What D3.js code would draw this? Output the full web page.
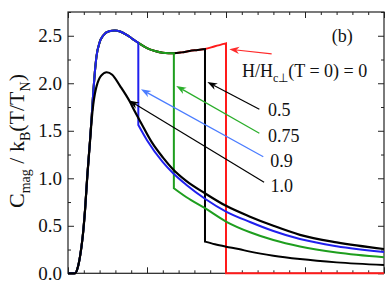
<!DOCTYPE html>
<html>
<head>
<meta charset="utf-8">
<script src="https://cdn.jsdelivr.net/npm/d3@7"></script>
<style>
  html, body { margin: 0; padding: 0; background: #fff; }
  svg { display: block; }
  text { font-family: "Liberation Serif", "Times New Roman", serif; fill: #111; }
</style>
</head>
<body>
<svg id="chart" width="388" height="288"></svg>
<script>
// ---------------- data (T/T_N , C_mag/k_B) ----------------
// ordered-phase branch shared by H/Hc = 0, 0.5, 0.75, 0.9
const T_order = [0, 0.045, 0.06, 0.076, 0.093, 0.108, 0.122, 0.139, 0.15, 0.16, 0.17, 0.18, 0.2, 0.224, 0.26, 0.297, 0.33, 0.371, 0.41, 0.445, 0.5, 0.55, 0.6, 0.67, 0.72, 0.77, 0.82, 0.867, 0.93, 1.0];
const C_order = [0, 0, 0.05, 0.175, 0.385, 0.67, 1.02, 1.39, 1.65, 1.91, 2.12, 2.28, 2.43, 2.505, 2.548, 2.556, 2.545, 2.51, 2.465, 2.425, 2.37, 2.34, 2.322, 2.316, 2.325, 2.34, 2.35, 2.36, 2.39, 2.42];

// transition temperatures (field labels)
const fieldLabels = ["0", "0.5", "0.75", "0.9"];
const T_jump = [1.0, 0.867, 0.67, 0.445];

// high-temperature branches after the jump
const T_tail_0   = [1.0, 2.0];
const C_tail_0   = [0, 0];
const T_tail_05  = [0.867, 0.93, 1.0, 1.08, 1.152, 1.3, 1.468, 1.7, 2.0];
const C_tail_05  = [0.333, 0.305, 0.28, 0.255, 0.228, 0.185, 0.15, 0.115, 0.087];
const T_tail_075 = [0.67, 0.75, 0.867, 1.0, 1.152, 1.3, 1.468, 1.7, 2.0];
const C_tail_075 = [0.895, 0.80, 0.685, 0.545, 0.432, 0.35, 0.282, 0.218, 0.168];
const T_tail_09  = [0.445, 0.5, 0.6, 0.667, 0.75, 0.867, 1.0, 1.152, 1.3, 1.468, 1.7, 2.0];
const C_tail_09  = [1.56, 1.40, 1.17, 1.05, 0.93, 0.785, 0.65, 0.54, 0.445, 0.36, 0.285, 0.224];

// H/Hc = 1.0 : continuous curve
const T_h10 = [0, 0.045, 0.06, 0.076, 0.093, 0.108, 0.122, 0.139, 0.15, 0.16, 0.17, 0.181, 0.21, 0.245, 0.28, 0.33, 0.39, 0.424, 0.46, 0.53, 0.6, 0.667, 0.75, 0.867, 1.0, 1.152, 1.3, 1.468, 1.7, 2.0];
const C_h10 = [0, 0, 0.05, 0.175, 0.385, 0.67, 1.02, 1.38, 1.62, 1.78, 1.89, 1.97, 2.08, 2.116, 2.09, 1.97, 1.81, 1.70, 1.59, 1.38, 1.22, 1.09, 0.97, 0.842, 0.71, 0.596, 0.5, 0.405, 0.325, 0.256];

// axis ticks
const yMajor = [0, 0.5, 1.0, 1.5, 2.0, 2.5];
const yMinor = [0.25, 0.75, 1.25, 1.75, 2.25, 2.75];
const xMajor = [0, 0.5, 1.0, 1.5, 2.0];
const xMinor = [0.1,0.2,0.3,0.4,0.6,0.7,0.8,0.9,1.1,1.2,1.3,1.4,1.6,1.7,1.8,1.9];

// annotations (data coordinates)
const arrowLabels = ["H/Hc⊥(T = 0) = 0", "0.5", "0.75", "0.9", "1.0"];
const arrowTail = [[1.289, 2.309], [1.211, 1.726], [1.211, 1.474], [1.236, 1.227], [1.241, 0.958]];
const arrowHead = [[1.021, 2.358], [0.882, 2.014], [0.685, 1.972], [0.462, 1.937], [0.386, 1.819]];
const labelPos  = [[1.101, 2.069], [1.266, 1.656], [1.266, 1.385], [1.280, 1.122], [1.282, 0.859]];

// ---------------- layout ----------------
const svg = d3.select("#chart");
const L = 68, R = 384, T = 12, B = 273.3;
const x = d3.scaleLinear().domain([0, 2]).range([L, R]);
const y = d3.scaleLinear().domain([0, 2.75]).range([B, T]);

const colLine = ["#ff1a1a", "#000000", "#1e9e1e", "#2020ee", "#000000"];
const colArrow = ["#ff2a2a", "#000000", "#2aae2a", "#4a7cff", "#000000"];

// axes (ticks inward)
function addAxis(gen, tr) {
  const g = svg.append("g").attr("transform", tr).call(gen);
  g.select(".domain").remove();
  g.selectAll("line").attr("stroke", "#222").attr("stroke-width", 1);
  return g;
}
const gl = addAxis(d3.axisLeft(y).tickValues(yMajor).tickSize(-6).tickPadding(6).tickFormat(d3.format(".1f")), `translate(${L},0)`);
gl.selectAll("text").attr("font-size", 19).attr("font-family", "Liberation Serif").attr("fill", "#111");
addAxis(d3.axisLeft(y).tickValues(yMinor).tickSize(-3).tickFormat(""), `translate(${L},0)`);
addAxis(d3.axisRight(y).tickValues(yMajor).tickSize(-6).tickFormat(""), `translate(${R},0)`);
addAxis(d3.axisRight(y).tickValues(yMinor).tickSize(-3).tickFormat(""), `translate(${R},0)`);
addAxis(d3.axisBottom(x).tickValues(xMajor).tickSize(-6).tickFormat(""), `translate(0,${B})`);
addAxis(d3.axisBottom(x).tickValues(xMinor).tickSize(-3).tickFormat(""), `translate(0,${B})`);
addAxis(d3.axisTop(x).tickValues(xMajor).tickSize(-6).tickFormat(""), `translate(0,${T})`);
addAxis(d3.axisTop(x).tickValues(xMinor).tickSize(-3).tickFormat(""), `translate(0,${T})`);

svg.append("rect").attr("x", L).attr("y", T).attr("width", R - L).attr("height", B - T)
  .attr("fill", "none").attr("stroke", "#222").attr("stroke-width", 1.2);

// curves
const line = d3.line().x(d => x(d[0])).y(d => y(d[1])).curve(d3.curveMonotoneX);
const zip = (a, b) => a.map((v, i) => [v, b[i]]);

const tails = [zip(T_tail_0, C_tail_0), zip(T_tail_05, C_tail_05), zip(T_tail_075, C_tail_075), zip(T_tail_09, C_tail_09)];
const order = zip(T_order, C_order);

fieldLabels.forEach((f, i) => {
  const seg = order.filter(d => d[0] <= T_jump[i] + 1e-9);
  const tail = tails[i];
  const d = line(seg) + "L" + line(tail).slice(1);
  svg.append("path").attr("d", d).attr("fill", "none")
    .attr("stroke", colLine[i]).attr("stroke-width", 2).attr("stroke-linejoin", "miter");
});
svg.append("path").attr("d", line(zip(T_h10, C_h10))).attr("fill", "none")
  .attr("stroke", colLine[4]).attr("stroke-width", 2.2);

// arrows
arrowTail.forEach((t, i) => {
  const x1 = x(t[0]), y1 = y(t[1]), x2 = x(arrowHead[i][0]), y2 = y(arrowHead[i][1]);
  const ang = Math.atan2(y2 - y1, x2 - x1);
  const len = 10, hw = 3.6, notch = 3;
  const ux = Math.cos(ang), uy = Math.sin(ang), px = -uy, py = ux;
  const bx = x2 - ux * len, by = y2 - uy * len;
  const nx = x2 - ux * (len - notch), ny = y2 - uy * (len - notch);
  svg.append("line").attr("x1", x1).attr("y1", y1).attr("x2", nx).attr("y2", ny)
    .attr("stroke", colArrow[i]).attr("stroke-width", 1.2);
  svg.append("path")
    .attr("d", `M${x2},${y2}L${bx + px * hw},${by + py * hw}L${nx},${ny}L${bx - px * hw},${by - py * hw}Z`)
    .attr("fill", colArrow[i]);
});

// labels
labelPos.forEach((p, i) => {
  const t = svg.append("text").attr("x", x(p[0])).attr("y", y(p[1])).attr("font-size", 18);
  if (i === 0) {
    t.append("tspan").text("H/H");
    t.append("tspan").attr("font-size", 12).attr("dy", 5).text("c⊥");
    t.append("tspan").attr("dy", -5).text("(T = 0) = 0");
  } else {
    t.text(arrowLabels[i]);
  }
});

svg.append("text").attr("x", x(1.669)).attr("y", y(2.435)).attr("font-size", 18).text("(b)");

// y axis title
const yt = svg.append("text").attr("transform", "translate(24,141) rotate(-90)")
  .attr("text-anchor", "middle").attr("font-size", 22);
yt.append("tspan").text("C");
yt.append("tspan").attr("font-size", 14).attr("dy", 6).text("mag");
yt.append("tspan").attr("dy", -6).text(" / k");
yt.append("tspan").attr("font-size", 14).attr("dy", 6).text("B");
yt.append("tspan").attr("dy", -6).text("(T/T");
yt.append("tspan").attr("font-size", 14).attr("dy", 6).text("N");
yt.append("tspan").attr("dy", -6).text(")");
</script>
</body>
</html>
